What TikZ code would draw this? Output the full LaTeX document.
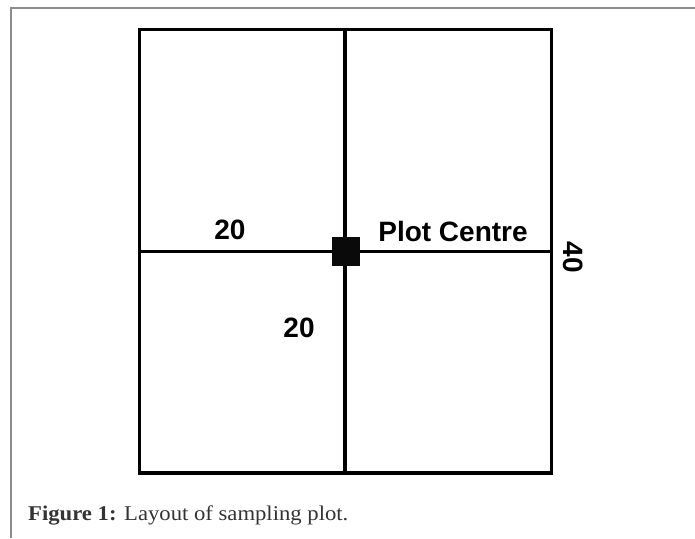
\documentclass[tikz,border=0pt]{standalone}
\usepackage{fontspec}
\setmainfont{Liberation Serif}
\setsansfont{Liberation Sans}
\newfontfamily\capfont[FakeStretch=1.08]{Liberation Serif}
\begin{document}
\begin{tikzpicture}[x=1pt,y=-1pt,
  plotline/.style={line width=3.2pt,black},
  framelinestyle/.style={line width=1.6pt,color=black!45},
  lbl/.style={font=\sffamily\bfseries\fontsize{28}{30}\selectfont,inner sep=0pt,text=black},
  centremark/.style={fill=black!96,draw=none,minimum width=28pt,minimum height=29pt,inner sep=0pt}]
\useasboundingbox (0,0) rectangle (695,538);
% page frame
\draw[framelinestyle] (11,538) -- (11,8) -- (695,8);
% plot
\coordinate (tl) at (139.5,29.5);
\coordinate (br) at (551.5,473);
\coordinate (tm) at (345,29.5);
\coordinate (bm) at (345,473);
\coordinate (ml) at (139.5,251.5);
\coordinate (mr) at (551.5,251.5);
\draw[plotline] (tl) rectangle (br);
\draw[plotline] (tm) -- (bm);
\draw[plotline] (ml) -- (mr);
\node[centremark] (pc) at (345.5,251.3) {};
\node[lbl] (l20a) at (230,229.5) {20};
\node[lbl] (l20b) at (299,328) {20};
\node[lbl] (lpc) at (453,231.5) {Plot Centre};
\node[lbl,rotate=-90] (l40) at (573,257) {40};
\node[anchor=base west,inner sep=0pt,text=black!80,font=\capfont\fontsize{21}{23}\selectfont] (cap) at (28,520) {\textbf{Figure 1:} Layout of sampling plot.};
\end{tikzpicture}
\end{document}
